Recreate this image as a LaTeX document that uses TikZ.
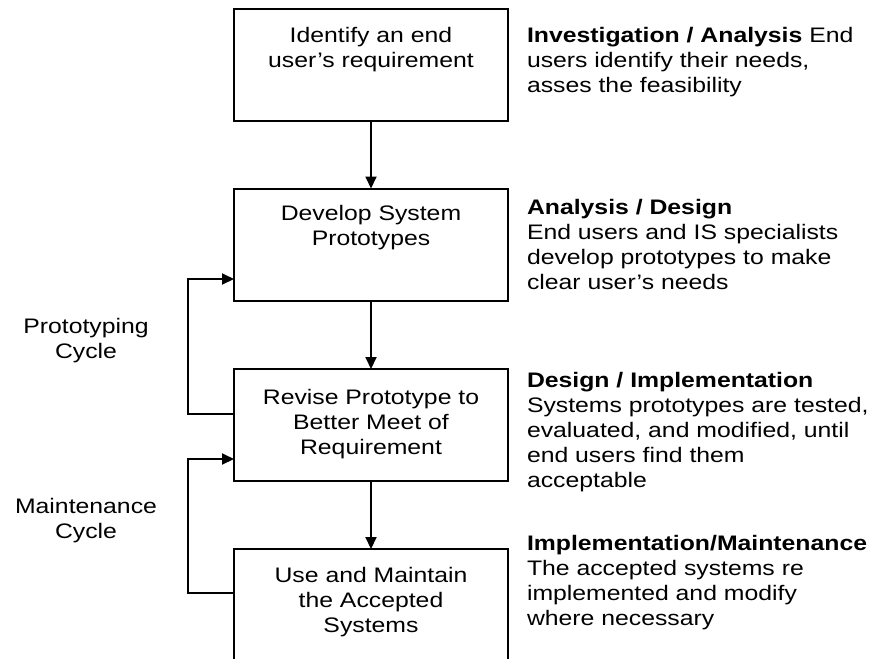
\documentclass[tikz,border=0pt]{standalone}
\usepackage{fontspec}
\setmainfont[FakeStretch=1.18]{Liberation Sans}
\usetikzlibrary{arrows.meta}
\begin{document}
\begin{tikzpicture}[x=1pt,y=-1pt,
  every node/.style={font=\fontsize{21pt}{25pt}\selectfont, inner sep=0pt, outer sep=0pt},
  box/.style={draw=black, line width=2pt, minimum width=274pt, minimum height=112pt},
  ctext/.style={align=center, anchor=base},
  rtext/.style={align=left, anchor=base west},
  arr/.style={line width=2pt, -{Triangle[length=12pt,width=11pt]}}]
\clip (0,0) rectangle (876,659);
\fill[white] (0,0) rectangle (876,659);
% boxes
\node[box] (b1) at (371,65) {};
\node[box] (b2) at (371,244.5) {};
\node[box] (b3) at (371,425) {};
\node[box] (b4) at (371,605) {};
% box texts (anchor = baseline of last line)
\node[ctext] (t1) at (371,67) {Identify an end\\user's requirement};
\node[ctext] (t2) at (371,245) {Develop System\\Prototypes};
\node[ctext] (t3) at (371,454) {Revise Prototype to\\Better Meet of\\Requirement};
\node[ctext] (t4) at (371,632) {Use and Maintain\\the Accepted\\Systems};
% right descriptions
\node[rtext] (d1) at (527,92) {\textbf{Investigation / Analysis} End\\users identify their needs,\\asses the feasibility};
\node[rtext] (d2) at (527,289) {\textbf{Analysis / Design}\\End users and IS specialists\\develop prototypes to make\\clear user's needs};
\node[rtext] (d3) at (527,487) {\textbf{Design / Implementation}\\Systems prototypes are tested,\\evaluated, and modified, until\\end users find them\\acceptable};
\node[rtext] (d4) at (527,625) {\textbf{Implementation/Maintenance}\\The accepted systems re\\implemented and modify\\where necessary};
% cycle labels
\node[ctext] (pc) at (86,358) {Prototyping\\Cycle};
\node[ctext] (mc) at (86,538) {Maintenance\\Cycle};
% main arrows
\draw[arr] (b1.south) -- (b2.north);
\draw[arr] (b2.south) -- (b3.north);
\draw[arr] (b3.south) -- (b4.north);
% loops
\coordinate (p1) at (188,414);
\coordinate (p2) at (188,279);
\coordinate (m1) at (188,593);
\coordinate (m2) at (188,459);
\draw[arr] (b3.west |- p1) -- (p1) -- (p2) -- (b2.west |- p2);
\draw[arr] (b4.west |- m1) -- (m1) -- (m2) -- (b3.west |- m2);
\end{tikzpicture}
\end{document}
